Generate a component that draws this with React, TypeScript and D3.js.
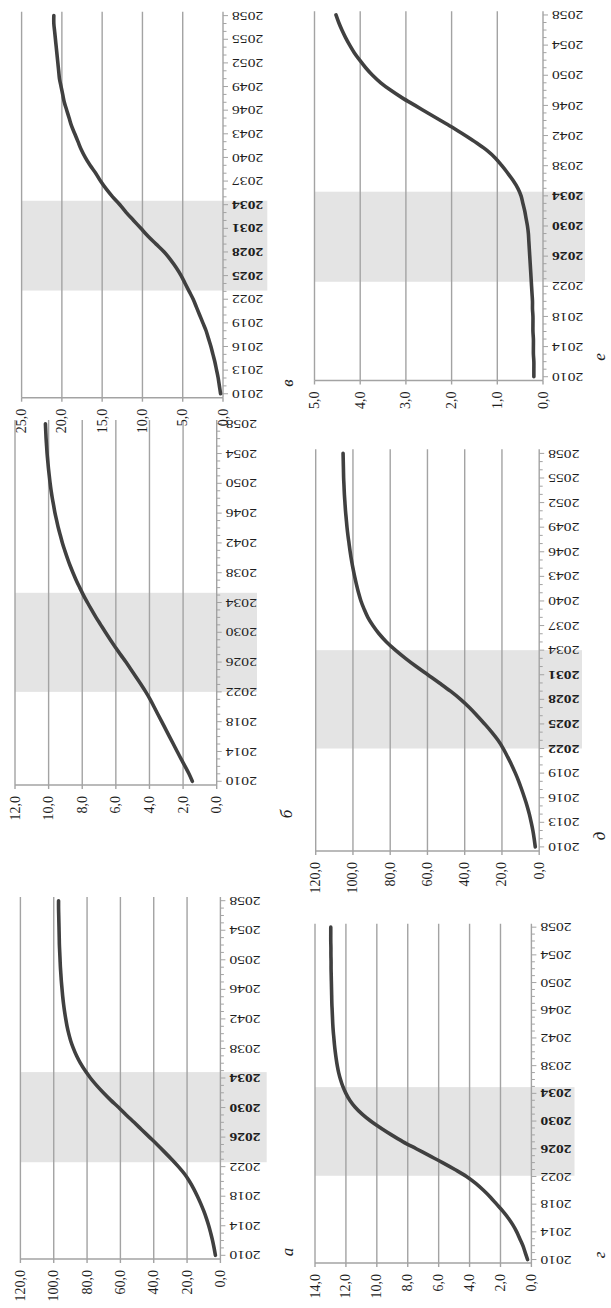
import React from "react";
import * as d3 from "d3";

// Years on the category axis
const YEARS = d3.range(2010, 2059);

// Series values, one per year 2010..2058
const SERIES_A = [3.0, 3.8, 4.7, 5.8, 7.0, 8.4, 10.0, 11.8, 13.8, 16.0, 18.5, 21.5,
  25.2, 29.3, 33.6, 38.0, 42.6, 47.2, 51.8, 56.5, 61.0, 65.8, 70.2, 74.3,
  78.0, 81.2, 84.0, 86.3, 88.2, 89.8, 91.0, 92.0, 92.8, 93.5, 94.1, 94.6,
  95.0, 95.4, 95.7, 96.0, 96.2, 96.4, 96.6, 96.7, 96.8, 96.9, 97.0, 97.1, 97.1];
const SERIES_B = [1.45, 1.65, 1.88, 2.12, 2.35, 2.58, 2.81, 3.04, 3.27, 3.5, 3.73, 3.96,
  4.22, 4.5, 4.8, 5.1, 5.4, 5.72, 6.03, 6.33, 6.62, 6.9, 7.18, 7.44,
  7.69, 7.93, 8.15, 8.36, 8.55, 8.73, 8.89, 9.04, 9.18, 9.3, 9.42, 9.52,
  9.62, 9.7, 9.78, 9.85, 9.91, 9.96, 10.01, 10.05, 10.09, 10.12, 10.15, 10.17, 10.19];
const SERIES_V = [0.3, 0.45, 0.6, 0.8, 1.0, 1.25, 1.5, 1.8, 2.1, 2.5, 2.9, 3.3,
  3.7, 4.2, 4.7, 5.2, 5.8, 6.5, 7.3, 8.3, 9.3, 10.2, 11.1, 12.0,
  12.8, 13.7, 14.5, 15.2, 15.8, 16.5, 17.1, 17.6, 18.0, 18.4, 18.8, 19.1,
  19.4, 19.7, 19.9, 20.1, 20.3, 20.4, 20.5, 20.6, 20.7, 20.8, 20.9, 21.0, 21.0];
const SERIES_G = [0.25, 0.4, 0.55, 0.75, 0.95, 1.2, 1.5, 1.85, 2.25, 2.65, 3.1, 3.6,
  4.2, 4.95, 5.75, 6.6, 7.45, 8.3, 9.05, 9.75, 10.4, 10.95, 11.4, 11.75,
  12.0, 12.2, 12.35, 12.47, 12.56, 12.63, 12.69, 12.74, 12.78, 12.82, 12.85, 12.87,
  12.89, 12.91, 12.92, 12.93, 12.94, 12.95, 12.96, 12.96, 12.97, 12.97, 12.98, 12.98, 12.98];
const SERIES_D = [2.1, 2.7, 3.4, 4.3, 5.3, 6.5, 7.9, 9.4, 11.0, 12.8, 14.8, 17.0,
  19.3, 22.1, 25.5, 29.3, 33.3, 37.5, 42.2, 47.6, 53.6, 59.8, 66.0, 71.8,
  77.2, 82.0, 86.0, 89.3, 92.0, 94.0, 95.7, 97.0, 98.1, 99.1, 100.0, 100.8,
  101.5, 102.1, 102.7, 103.2, 103.6, 104.0, 104.3, 104.6, 104.8, 105.0, 105.1, 105.2, 105.3];
const SERIES_E = [0.2, 0.2, 0.2, 0.21, 0.21, 0.21, 0.22, 0.22, 0.22, 0.23, 0.23, 0.24,
  0.25, 0.26, 0.27, 0.28, 0.29, 0.3, 0.31, 0.32, 0.34, 0.37, 0.4, 0.44,
  0.48, 0.55, 0.65, 0.77, 0.9, 1.04, 1.22, 1.45, 1.7, 1.96, 2.24, 2.52,
  2.8, 3.08, 3.33, 3.55, 3.73, 3.88, 4.01, 4.13, 4.23, 4.32, 4.4, 4.47, 4.53];

// Per-panel axis settings (а, б, в, г, д, е)
const PANEL_LETTERS = ["а", "б", "в", "г", "д", "е"];
const PANEL_SERIES = [SERIES_A, SERIES_B, SERIES_V, SERIES_G, SERIES_D, SERIES_E];
const VALUE_MAX = [120, 12, 25, 14, 120, 5];
const VALUE_STEP = [20, 2, 5, 2, 20, 1];
const YEAR_LABEL_STEP = [4, 4, 3, 4, 3, 4];
const SHADE_FROM = [2022.6, 2022.0, 2023.1, 2022.1, 2022.0, 2022.6];
const SHADE_TO = [2034.8, 2035.3, 2034.5, 2034.9, 2034.0, 2034.55];
const BOLD_YEARS = [
  [2026, 2030, 2034],
  [],
  [2025, 2028, 2031, 2034],
  [2026, 2030, 2034],
  [2022, 2025, 2028, 2031],
  [2026, 2030, 2034],
];

// Page placement of each (rotated) panel
const LAYOUT = [
  { left: 20.4, axis: 220.4, top: 897, bottom: 1259, shadeRight: 266.7, lx: 287, ly: 1252 },
  { left: 15, axis: 216.7, top: 420, bottom: 785, shadeRight: 257, lx: 286, ly: 814 },
  { left: 21.6, axis: 223, top: 11.7, bottom: 397.7, shadeRight: 267.3, lx: 287, ly: 383 },
  { left: 315, axis: 531.4, top: 923.7, bottom: 1263, shadeRight: 574.5, lx: 599, ly: 1255 },
  { left: 315.7, axis: 539.2, top: 449.3, bottom: 851, shadeRight: 582, lx: 599, ly: 836 },
  { left: 314.5, axis: 543, top: 11.2, bottom: 380.5, shadeRight: 585, lx: 599, ly: 357 },
];

const FONT = "Liberation Serif, DejaVu Serif, serif";
const GRID = "#a3a3a3";
const LINE = "#404040";
const SHADE = "#e4e4e4";
const TEXT = "#1e1e1e";

const fmt = (v: number) => d3.format(".1f")(v).replace(".", ",");

function Panel({ idx }: { idx: number }) {
  const L = LAYOUT[idx];
  const series = PANEL_SERIES[idx];
  const vmax = VALUE_MAX[idx];
  const x = d3.scaleLinear().domain([0, vmax]).range([L.axis, L.left]);
  const y = d3.scaleLinear().domain([2009.5, 2058.5]).range([L.bottom, L.top]);
  const gridVals = d3.range(0, vmax + VALUE_STEP[idx] / 2, VALUE_STEP[idx]);
  const labelYears = YEARS.filter((yr) => (yr - 2010) % YEAR_LABEL_STEP[idx] === 0);
  const bold = new Set(BOLD_YEARS[idx]);
  const line = d3
    .line<number>()
    .x((d) => x(d))
    .y((_, i) => y(YEARS[i]))
    .curve(d3.curveCatmullRom.alpha(0.5));

  return (
    <g>
      <rect
        x={L.left}
        y={y(SHADE_TO[idx])}
        width={L.shadeRight - L.left}
        height={y(SHADE_FROM[idx]) - y(SHADE_TO[idx])}
        fill={SHADE}
      />
      {gridVals
        .filter((v) => v > 0)
        .map((v) => (
          <line key={"g" + v} x1={x(v)} x2={x(v)} y1={L.top} y2={L.bottom} stroke={GRID} strokeWidth={1.4} />
        ))}
      {/* value axis along the bottom */}
      <line x1={L.left} x2={L.axis} y1={L.bottom} y2={L.bottom} stroke={GRID} strokeWidth={1.4} />
      {gridVals.map((v) => (
        <line key={"t" + v} x1={x(v)} x2={x(v)} y1={L.bottom} y2={L.bottom + 4} stroke={GRID} strokeWidth={1.4} />
      ))}
      {gridVals.map((v) => (
        <text
          key={"vl" + v}
          transform={`translate(${x(v)},${L.bottom + 11}) rotate(-90)`}
          textAnchor="end"
          dominantBaseline="central"
          fontFamily={FONT}
          fontSize={14}
          fill={TEXT}
        >
          {fmt(v)}
        </text>
      ))}
      {/* year axis on the right */}
      <line x1={L.axis} x2={L.axis} y1={L.top} y2={L.bottom} stroke={GRID} strokeWidth={1.4} />
      {YEARS.map((yr) => (
        <line
          key={"yt" + yr}
          x1={L.axis}
          x2={L.axis + ((yr - 2010) % YEAR_LABEL_STEP[idx] === 0 ? 5 : 3.5)}
          y1={y(yr)}
          y2={y(yr)}
          stroke={GRID}
          strokeWidth={1}
        />
      ))}
      {labelYears.map((yr) => (
        <text
          key={"yl" + yr}
          transform={`translate(${L.axis + 9},${y(yr)}) scale(1.3,1) rotate(180)`}
          textAnchor="end"
          dominantBaseline="central"
          fontFamily={FONT}
          fontSize={12}
          fontWeight={bold.has(yr) ? "bold" : "normal"}
          fill={TEXT}
        >
          {yr}
        </text>
      ))}
      <path d={line(series) || ""} fill="none" stroke={LINE} strokeWidth={3.6} strokeLinecap="round" />
      <text
        transform={`translate(${L.lx},${L.ly}) rotate(-90)`}
        textAnchor="middle"
        dominantBaseline="central"
        fontFamily={FONT}
        fontStyle="italic"
        fontSize={17}
        fill={TEXT}
      >
        {PANEL_LETTERS[idx]}
      </text>
    </g>
  );
}

export default function App() {
  return (
    <svg
      width={611}
      height={1308}
      viewBox="0 0 611 1308"
      style={{ position: "absolute", left: 0, top: 0, background: "#fff" }}
    >
      <rect width={611} height={1308} fill="#fff" />
      {PANEL_LETTERS.map((_, i) => (
        <Panel key={i} idx={i} />
      ))}
    </svg>
  );
}
